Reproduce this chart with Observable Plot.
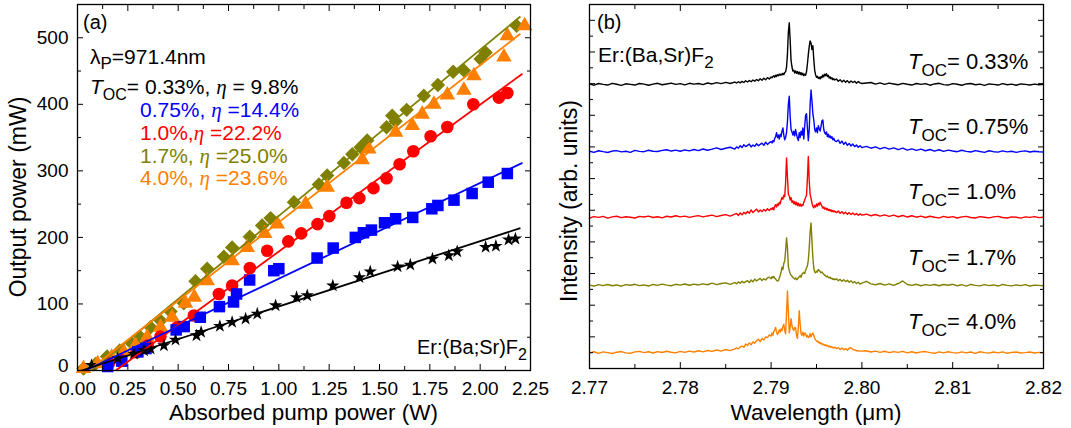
<!DOCTYPE html>
<html><head><meta charset="utf-8">
<script src="https://cdn.jsdelivr.net/npm/d3@7"></script>
<script src="https://cdn.jsdelivr.net/npm/@observablehq/plot@0.6"></script>
<style>
body{margin:0;background:#fff;}
#wrap{position:relative;width:1071px;height:428px;overflow:hidden;background:#fff;}
#pa{position:absolute;left:0;top:0;}
#pb{position:absolute;left:540px;top:0;}
svg text{white-space:pre;}
</style></head><body><div id="wrap"><div id="pa"></div><div id="pb"></div></div>
<script>
// ---------- Panel (a): output power vs absorbed pump power ----------
const seriesLabels = ["0.33%", "0.75%", "1.0%", "1.7%", "4.0%"];
const seriesColors = ["#000000", "#0000ff", "#ff0000", "#808000", "#ff8000"];
const seriesSymbols = ["star", "square", "circle", "diamond2", "triangle"];
const seriesR = [4.2, 6.5, 6.3, 6.5, 5.8];

const pump033 = [0.07,0.20,0.28,0.33,0.363,0.429,0.487,0.591,0.614,0.707,0.768,0.835,0.893,0.984,1.088,1.141,1.268,1.400,1.454,1.590,1.653,1.763,1.844,1.886,2.027,2.078,2.141,2.175];
const out033  = [8,18,25,30,32.6,37.6,46,52.6,57.6,66.6,72.6,77.7,85.2,97.7,110,112.7,127.5,140,148.6,156,158.7,167.8,172.8,178.8,185.4,187,196.5,198];
const pump075 = [0.15,0.22,0.30,0.34,0.49,0.53,0.61,0.705,0.775,0.79,0.855,0.975,1.00,1.19,1.27,1.38,1.42,1.46,1.525,1.58,1.665,1.76,1.79,1.87,1.96,2.04,2.135];
const out075  = [6,14,28,33,61,66,80,96,103,115,136,150,153,169,184,200,207,211,222,228,230,243,248,256,266,283,296];
const pump10  = [0.156,0.214,0.293,0.349,0.412,0.495,0.578,0.702,0.768,0.856,0.942,1.047,1.111,1.192,1.251,1.336,1.40,1.47,1.535,1.60,1.668,1.754,1.837,1.966,2.093,2.135];
const out10   = [11,16,27.5,37.6,51,65,82.6,115,127.7,154,180,194,206,220,232,252,259,274,289,310,329.5,352,366,400,410,417];
const pump17  = [0.03,0.09,0.147,0.21,0.272,0.313,0.363,0.412,0.462,0.528,0.586,0.644,0.727,0.768,0.856,0.917,0.959,1.075,1.199,1.24,1.323,1.365,1.406,1.439,1.535,1.563,1.58,1.635,1.72,1.79,1.866,1.919,2.002,2.027,2.181];
const out17   = [3,10,21,30,40,50,65,75,88.6,101,134,153,171,185,201,218,229,253,279.5,293,312,325,335.5,345.6,365.6,383,374.6,391.7,413,429,449,451,468,478,518];
const pump40  = [0.03,0.10,0.17,0.23,0.288,0.346,0.412,0.47,0.536,0.58,0.644,0.768,0.843,0.93,0.992,1.133,1.24,1.414,1.447,1.58,1.663,1.712,1.77,1.837,1.919,1.969,2.118,2.135,2.221];
const out40   = [3,10,20,28,37.6,50,65,80,101,110,135,165,185,206,220,250,275.5,316.6,333,358,368,385,400,414,421,443,471,503,518];

// linear fits (end points)
const fitStartPump = [0.02, 0.04, 0.19, 0.07, 0.055];
const fitStartOut  = [0, 0, 0, 0, 0];
const fitEndPump   = [2.20, 2.21, 2.21, 2.20, 2.20];
const fitEndOut    = [214, 312, 446, 532, 506];
const slopeText = ["9.8%", "14.4%", "22.2%", "25.0%", "23.6%"];

const xTicksA = [0, 0.25, 0.5, 0.75, 1, 1.25, 1.5, 1.75, 2, 2.25];
const xMinorA = [0.125, 0.375, 0.625, 0.875, 1.125, 1.375, 1.625, 1.875, 2.125];
const yTicksA = [0, 100, 200, 300, 400, 500];
const yMinorA = [50, 150, 250, 350, 450];

// ---------- Panel (b): laser spectra ----------
const wavelength = [
2.7700,2.7705,2.7710,2.7715,2.7720,2.7725,2.7730,2.7735,2.7740,2.7745,
2.7750,2.7755,2.7760,2.7765,2.7770,2.7775,2.7780,2.7785,2.7790,2.7795,
2.7800,2.7805,2.7810,2.7815,2.7820,2.7825,2.7830,2.7835,2.7840,2.7845,
2.7850,2.7855,2.7860,
2.7862,2.7864,2.7866,2.7868,2.7870,2.7872,2.7874,2.7876,2.7878,2.7880,
2.7882,2.7884,2.7886,2.7888,2.7890,2.7892,2.7894,2.7896,2.7898,2.7900,
2.7901,2.7902,2.7903,2.7904,2.7905,2.7906,2.7907,2.7908,2.7909,2.7910,
2.7911,2.7912,2.7913,2.7914,2.7915,2.7916,2.7917,2.7918,2.7919,2.7920,
2.7921,2.7922,2.7923,2.7924,2.7925,2.7926,2.7927,2.7928,2.7929,2.7930,
2.7931,2.7932,2.7933,2.7934,2.7935,2.7936,2.7937,2.7938,2.7939,2.7940,
2.7941,2.7942,2.7943,2.7944,2.7945,2.7946,2.7947,2.7948,2.7949,2.7950,
2.7951,2.7952,2.7953,2.7954,2.7955,2.7956,2.7957,2.7958,2.7959,2.7960,
2.7961,2.7962,2.7963,2.7964,2.7965,2.7966,2.7967,2.7968,2.7969,2.7970,
2.7972,2.7974,2.7976,2.7978,2.7980,2.7982,2.7984,2.7986,2.7988,2.7990,
2.7992,2.7994,2.7996,2.7998,2.8000,
2.8005,2.8010,2.8015,2.8020,2.8025,2.8030,2.8035,2.8040,2.8045,2.8050,
2.8055,2.8060,2.8065,2.8070,2.8075,2.8080,2.8085,2.8090,2.8095,2.8100,
2.8105,2.8110,2.8115,2.8120,2.8125,2.8130,2.8135,2.8140,2.8145,2.8150,
2.8155,2.8160,2.8165,2.8170,2.8175,2.8180,2.8185,2.8190,2.8195,2.8200];

const spec033 = [
0.03,-0.05,0.06,0.00,-0.04,0.07,0.01,-0.06,0.04,0.00,
-0.04,0.06,0.02,-0.05,0.02,0.07,-0.02,0.03,0.08,0.00,
0.05,-0.03,0.07,0.02,0.06,-0.01,0.09,0.03,0.11,0.05,
0.13,0.06,0.15,
0.09,0.17,0.10,0.19,0.12,0.23,0.15,0.25,0.17,0.28,
0.20,0.31,0.23,0.36,0.26,0.39,0.29,0.43,0.34,0.47,
0.42,0.50,0.55,0.46,0.58,0.50,0.62,0.55,0.65,0.58,
0.66,0.60,0.70,0.62,0.75,0.80,1.10,1.90,3.30,3.90,
2.80,1.50,1.10,0.85,0.90,0.72,0.85,0.70,0.82,0.66,
0.78,0.62,0.75,0.60,0.70,0.55,0.65,0.58,0.80,1.30,
1.90,2.40,2.75,2.60,2.20,2.45,1.60,0.90,0.60,0.45,
0.52,0.38,0.45,0.35,0.50,0.42,0.60,0.48,0.65,0.55,
0.68,0.50,0.58,0.40,0.48,0.35,0.42,0.30,0.36,0.28,
0.34,0.20,0.30,0.16,0.27,0.13,0.24,0.10,0.22,0.12,
0.20,0.08,0.18,0.10,0.06,
0.09,0.12,0.02,0.10,0.00,0.08,0.03,-0.02,0.07,0.01,
-0.04,0.06,0.00,0.05,-0.05,0.03,0.07,-0.01,-0.04,0.05,
0.01,-0.05,0.03,0.06,-0.02,0.02,-0.06,0.03,0.00,-0.04,
0.05,-0.02,0.02,-0.05,0.03,0.00,-0.04,0.02,-0.02,0.00];

const spec075 = [
0.03,-0.04,0.06,0.00,-0.05,0.04,0.07,-0.01,0.03,-0.04,
0.08,0.02,0.00,0.09,0.03,0.01,0.08,0.12,0.04,0.10,
0.03,0.11,0.05,0.14,0.07,0.17,0.09,0.16,0.24,0.14,
0.22,0.28,0.16,
0.30,0.22,0.38,0.26,0.44,0.32,0.40,0.48,0.30,0.42,
0.34,0.50,0.38,0.46,0.54,0.40,0.60,0.46,0.57,0.64,
0.55,0.70,0.62,0.85,0.95,1.20,0.90,1.05,0.80,1.10,
0.95,1.30,1.50,1.05,0.75,0.90,1.20,1.90,3.00,3.50,
2.20,1.40,1.25,1.05,1.30,1.00,1.40,1.10,0.85,0.70,
1.20,0.90,1.30,1.05,1.50,0.80,1.60,2.30,2.40,1.50,
0.70,1.40,3.00,3.90,3.20,2.40,2.00,1.40,1.25,1.50,
1.20,1.65,1.45,1.30,1.60,1.95,2.00,1.40,1.20,1.10,
1.25,0.95,1.10,0.90,1.00,0.85,0.95,0.75,0.85,0.70,
0.64,0.74,0.53,0.67,0.46,0.60,0.40,0.52,0.36,0.48,
0.32,0.42,0.28,0.38,0.26,
0.34,0.22,0.30,0.18,0.27,0.16,0.24,0.13,0.22,0.10,
0.18,0.08,0.16,0.06,0.14,0.04,0.12,0.02,0.10,0.04,
0.00,0.09,0.02,-0.02,0.07,0.01,-0.04,0.06,0.00,-0.03,
0.05,-0.01,0.03,-0.04,0.02,0.05,-0.02,0.03,0.00,-0.02];

const spec10 = [
-0.04,0.05,0.00,0.06,-0.05,0.03,0.07,-0.02,0.04,0.01,
-0.04,0.06,0.02,0.08,-0.01,0.04,-0.03,0.07,0.02,0.10,
0.03,0.08,0.00,0.06,0.11,0.03,0.09,0.14,0.05,0.12,
0.17,0.08,0.20,
0.24,0.12,0.28,0.16,0.32,0.22,0.37,0.26,0.47,0.30,
0.42,0.52,0.34,0.46,0.36,0.50,0.40,0.54,0.43,0.57,
0.50,0.62,0.48,0.70,0.80,0.65,0.85,0.75,0.95,0.85,
1.10,1.25,1.15,1.40,1.30,2.20,3.75,2.60,1.45,1.35,
1.10,1.25,0.95,1.05,0.85,1.00,0.80,0.95,0.75,0.90,
0.72,0.85,0.70,0.80,0.75,0.95,1.10,1.25,1.40,2.50,
3.85,2.30,1.45,1.20,0.90,0.70,0.60,0.75,0.65,0.85,
0.70,0.90,0.78,0.95,0.82,0.70,0.58,0.66,0.52,0.60,
0.48,0.56,0.44,0.50,0.40,0.48,0.36,0.44,0.34,0.40,
0.30,0.40,0.26,0.36,0.23,0.32,0.20,0.30,0.18,0.28,
0.16,0.24,0.13,0.22,0.14,
0.20,0.10,0.18,0.08,0.16,0.06,0.14,0.04,0.12,0.02,
0.10,0.01,0.08,-0.01,0.07,0.01,-0.03,0.06,-0.01,0.05,
-0.04,0.03,0.06,-0.01,-0.04,0.05,0.01,-0.03,0.03,0.06,
-0.01,-0.04,0.03,0.01,-0.05,0.03,0.00,0.05,-0.02,0.01];

const spec17 = [
0.02,-0.04,0.05,-0.01,0.06,-0.02,0.03,-0.05,0.05,0.01,
0.07,-0.01,0.03,-0.04,0.06,0.00,0.08,0.02,-0.02,0.07,
0.02,0.09,0.01,0.08,0.03,0.10,0.04,0.14,0.05,0.12,
0.16,0.07,0.18,
0.11,0.22,0.14,0.26,0.16,0.24,0.30,0.18,0.34,0.23,
0.40,0.28,0.37,0.44,0.31,0.42,0.34,0.47,0.52,0.42,
0.55,0.48,0.58,0.45,0.40,0.32,0.28,0.30,0.45,0.62,
0.85,1.15,1.00,1.40,1.55,2.20,3.00,2.40,1.20,0.95,
0.75,0.65,0.58,0.50,0.45,0.40,0.48,0.36,0.40,0.48,
0.55,0.62,0.52,0.70,0.78,0.82,0.75,0.95,1.10,1.25,
1.60,2.40,3.40,3.95,2.80,1.75,1.10,0.85,0.80,0.90,
0.85,1.00,0.95,0.88,0.80,0.85,0.78,0.70,0.65,0.60,
0.55,0.60,0.50,0.48,0.52,0.42,0.46,0.38,0.42,0.36,
0.42,0.30,0.38,0.26,0.36,0.24,0.32,0.20,0.30,0.16,
0.24,0.12,0.20,0.08,0.14,
0.26,0.10,0.04,0.12,0.02,0.10,0.00,0.12,0.28,0.06,
0.00,0.07,-0.02,0.05,0.00,0.06,-0.02,0.06,0.01,0.07,
-0.02,0.05,-0.04,0.06,0.00,-0.03,0.05,-0.01,0.03,-0.04,
0.06,0.00,-0.03,0.03,-0.01,0.05,-0.04,0.02,0.00,-0.02];

const spec40 = [
-0.01,0.06,-0.04,0.05,0.00,-0.05,0.03,0.07,-0.01,-0.04,
0.05,0.08,0.00,0.06,-0.02,0.07,0.01,0.09,0.03,-0.01,
0.08,0.02,0.10,0.04,0.12,0.05,0.14,0.08,0.17,0.10,
0.20,0.13,0.24,
0.30,0.24,0.36,0.42,0.34,0.55,0.45,0.62,0.50,0.68,
0.60,0.75,0.85,0.70,0.90,0.80,1.00,0.95,1.12,1.05,
1.25,1.10,1.35,1.45,1.60,1.30,1.15,1.25,1.45,1.30,
1.50,1.40,1.65,1.80,1.40,1.20,2.50,3.90,2.60,1.25,
1.60,2.15,1.70,1.50,1.40,1.60,1.55,1.10,0.90,1.60,
2.65,1.80,1.20,1.10,1.30,1.05,1.25,1.20,1.00,1.10,
0.95,1.00,1.20,1.00,1.15,1.25,1.10,0.90,0.80,0.75,
0.68,0.72,0.60,0.65,0.55,0.58,0.50,0.54,0.46,0.50,
0.42,0.46,0.38,0.42,0.35,0.40,0.32,0.36,0.30,0.34,
0.26,0.32,0.20,0.30,0.18,0.26,0.16,0.28,0.32,0.20,
0.18,0.12,0.12,0.10,0.10,
0.12,0.04,0.10,0.02,0.09,0.00,0.07,0.02,0.08,-0.01,
0.06,-0.02,0.05,0.07,0.00,-0.04,0.05,-0.01,0.06,0.00,
-0.03,0.05,-0.01,0.04,-0.04,0.06,0.00,-0.03,0.04,-0.01,
0.05,-0.04,0.02,0.04,-0.02,0.00,0.04,-0.02,0.02,0.00];

const specOffsets = [17.95, 13.7, 9.55, 5.25, 1.0];
const specLabels = ["0.33%", "0.75%", "1.0%", "1.7%", "4.0%"];

const xTicksB = [2.77, 2.78, 2.79, 2.80, 2.81, 2.82];
const xMinorB = [2.775, 2.785, 2.795, 2.805, 2.815];
const yMajorB = [2, 4, 6, 8, 10, 12, 14, 16, 18, 20, 22];
const yMinorB = [1, 3, 5, 7, 9, 11, 13, 15, 17, 19, 21];

// ---------- helpers ----------
const FONT = "Liberation Sans, Arial, sans-serif";
function frameTicks(xMaj, xMin, yMaj, yMin) {
  const m = [];
  for (const [vals, len] of [[xMaj, 6], [xMin, 4]]) {
    m.push(Plot.axisX(vals, {anchor: "bottom", tickSize: len, dy: -len, fill: "none", label: null, stroke: "black"}));
    m.push(Plot.axisX(vals, {anchor: "top", tickSize: len, dy: len, fill: "none", label: null, stroke: "black"}));
  }
  for (const [vals, len] of [[yMaj, 6], [yMin, 4]]) {
    m.push(Plot.axisY(vals, {anchor: "left", tickSize: len, dx: len, fill: "none", label: null, stroke: "black"}));
    m.push(Plot.axisY(vals, {anchor: "right", tickSize: len, dx: -len, fill: "none", label: null, stroke: "black"}));
  }
  return m;
}
function rich(svg, x, y, parts, opt = {}) {
  const size = opt.size || 21;
  const t = d3.select(svg).append("text")
    .attr("x", x).attr("y", y).attr("font-size", size)
    .attr("fill", opt.fill || "black").attr("text-anchor", opt.anchor || "start")
    .attr("font-family", FONT).style("white-space", "pre");
  if (opt.transform) t.attr("transform", opt.transform);
  let shift = 0;
  for (const p of parts) {
    const s = typeof p === "string" ? {t: p} : p;
    const ts = t.append("tspan").text(s.t);
    const want = s.sub ? Math.round(size * (s.shift || 0.3)) : 0;
    if (want !== shift) { ts.attr("dy", want - shift); shift = want; }
    if (s.sub) ts.attr("font-size", Math.round(size * (s.scale || 0.75)));
    if (s.it) ts.attr("font-style", "italic");
    if (s.serif) ts.attr("font-family", "Liberation Serif, serif");
  }
  return t;
}
const eta = {t: "η", it: true, serif: true};

// ---------- build panel (a) ----------
const marksA = [];
const order = [3, 4, 2, 1, 0];
for (const k of order) {
  const px = [pump033, pump075, pump10, pump17, pump40][k];
  const py = [out033, out075, out10, out17, out40][k];
  marksA.push(Plot.dot(px, {x: d => d, y: (d, i) => py[i], symbol: seriesSymbols[k], fill: seriesColors[k], r: seriesR[k]}));
}
for (const k of order) {
  marksA.push(Plot.link([k], {x1: i => fitStartPump[i], y1: i => fitStartOut[i], x2: i => fitEndPump[i], y2: i => fitEndOut[i], stroke: seriesColors[k], strokeWidth: 1.8}));
}
marksA.push(
  Plot.axisX(xTicksA, {anchor: "bottom", tickSize: 0, tickPadding: 11, tickFormat: d3.format(".2f"), fontSize: 19, label: null, fill: "black"}),
  Plot.axisY(yTicksA.slice(0, 1), {anchor: "left", tickSize: 0, tickPadding: 9, dy: -5, tickFormat: d3.format("d"), fontSize: 19, label: null, fill: "black"}),
  Plot.axisY(yTicksA.slice(1), {anchor: "left", tickSize: 0, tickPadding: 9, tickFormat: d3.format("d"), fontSize: 19, label: null, fill: "black"}),
  ...frameTicks(xTicksA, xMinorA, yTicksA, yMinorA),
  Plot.frame({stroke: "black", strokeWidth: 1.3})
);
const svgA = Plot.plot({
  width: 540, height: 428,
  marginLeft: 77, marginRight: 10, marginTop: 4, marginBottom: 58,
  x: {domain: [0, 2.25], label: null},
  y: {domain: [0, 550], label: null},
  style: {fontFamily: FONT, fontSize: "19px", background: "none", overflow: "visible", color: "black"},
  marks: marksA
});
document.getElementById("pa").appendChild(svgA);

rich(svgA, 83, 29, ["(a)"], {size: 20});
rich(svgA, 90, 64, ["λ", {t: "P", sub: true, scale: 0.8, shift: 0.22}, "=971.4nm"], {size: 21});
rich(svgA, 90, 94, [{t: "T", it: true}, {t: "OC", sub: true}, "= " + seriesLabels[0] + ", ", eta, " = " + slopeText[0]], {size: 21});
rich(svgA, 140, 117, [seriesLabels[1] + ", ", eta, " =" + slopeText[1]], {size: 21, fill: seriesColors[1]});
rich(svgA, 140, 140, [seriesLabels[2] + ",", eta, " =" + slopeText[2]], {size: 21, fill: seriesColors[2]});
rich(svgA, 140, 163, [seriesLabels[3] + ", ", eta, " =" + slopeText[3]], {size: 21, fill: seriesColors[3]});
rich(svgA, 140, 185, [seriesLabels[4] + ", ", eta, " =" + slopeText[4]], {size: 21, fill: seriesColors[4]});
rich(svgA, 527, 354, ["Er:(Ba;Sr)F", {t: "2", sub: true, scale: 0.8}], {size: 20, anchor: "end"});
rich(svgA, 303.5, 420, ["Absorbed pump power (W)"], {size: 22.5, anchor: "middle"});
rich(svgA, 0, 0, ["Output power (mW)"], {size: 23, anchor: "middle", transform: "translate(26,197) rotate(-90)"});

// ---------- build panel (b) ----------
const specs = [spec033, spec075, spec10, spec17, spec40];
const marksB = specs.map((s, k) => Plot.line(wavelength, {x: d => d, y: (d, i) => specOffsets[k] + s[i], stroke: seriesColors[k], strokeWidth: 1.4}));
marksB.push(
  Plot.axisX(xTicksB, {anchor: "bottom", tickSize: 0, tickPadding: 12, tickFormat: d3.format(".2f"), fontSize: 19, label: null, fill: "black"}),
  ...frameTicks(xTicksB, xMinorB, yMajorB, yMinorB),
  Plot.frame({stroke: "black", strokeWidth: 1.3})
);
const svgB = Plot.plot({
  width: 531, height: 428,
  marginLeft: 49, marginRight: 28, marginTop: 4, marginBottom: 60,
  x: {domain: [2.77, 2.82], label: null},
  y: {domain: [0, 23], label: null},
  style: {fontFamily: FONT, fontSize: "19px", background: "none", overflow: "visible", color: "black"},
  marks: marksB
});
document.getElementById("pb").appendChild(svgB);

rich(svgB, 57, 29, ["(b)"], {size: 20});
rich(svgB, 58, 62, ["Er:(Ba,Sr)F", {t: "2", sub: true, scale: 0.8}], {size: 21});
const labelBase = [69, 134, 199, 265, 329];
specLabels.forEach((lab, k) => {
  rich(svgB, 368, labelBase[k], [{t: "T", it: true}, {t: "OC", sub: true, scale: 0.77, shift: 0.33}, "= " + lab], {size: 22});
});
rich(svgB, 276, 420, ["Wavelength (μm)"], {size: 22.5, anchor: "middle"});
rich(svgB, 0, 0, ["Intensity (arb. units)"], {size: 23, anchor: "middle", transform: "translate(37,201) rotate(-90)"});
</script></body></html>
